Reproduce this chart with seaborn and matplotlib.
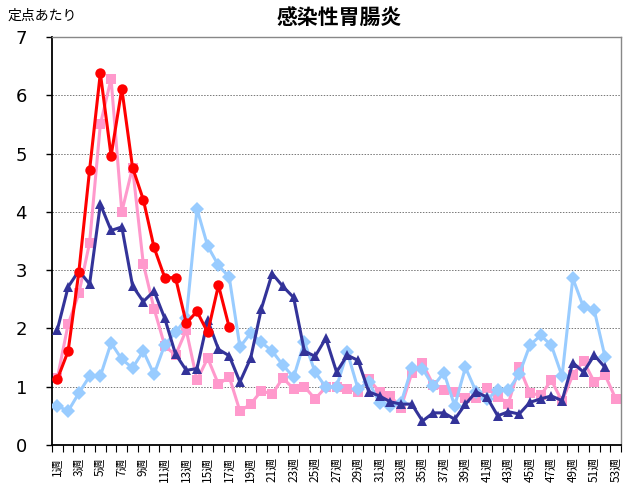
import numpy as np
import pandas as pd
import matplotlib
matplotlib.use('Agg')
import matplotlib.pyplot as plt
import seaborn as sns

# week labels 1週..53週
weeks = [f'{i}週' for i in range(1, 54)]

# series values (per sentinel site)
red = [1.13, 1.61, 2.97, 4.72, 6.38, 4.96, 6.11, 4.76, 4.21, 3.39, 2.87, 2.87, 2.09, 2.29, 1.93, 2.74, 2.02]
pink = [1.15, 2.07, 2.60, 3.47, 5.50, 6.28, 4.00, 4.76, 3.11, 2.34, 1.70, 1.54, 1.97, 1.11, 1.49, 1.04, 1.17,
        0.58, 0.70, 0.93, 0.87, 1.15, 0.96, 1.00, 0.79, 0.99, 1.00, 0.96, 0.91, 1.13, 0.91, 0.84, 0.64,
        1.23, 1.40, 1.03, 0.94, 0.91, 0.80, 0.80, 0.97, 0.83, 0.71, 1.34, 0.89, 0.85, 1.11, 0.75, 1.20,
        1.44, 1.08, 1.20, 0.79]
lightblue = [0.67, 0.58, 0.89, 1.18, 1.18, 1.75, 1.47, 1.32, 1.61, 1.21, 1.72, 1.93, 2.17, 4.05, 3.41, 3.08,
             2.88, 1.68, 1.92, 1.76, 1.61, 1.37, 1.16, 1.77, 1.25, 0.99, 1.00, 1.59, 0.96, 1.08, 0.72, 0.66,
             0.72, 1.32, 1.31, 1.01, 1.24, 0.67, 1.33, 0.91, 0.78, 0.94, 0.94, 1.21, 1.71, 1.88, 1.71, 1.18,
             2.86, 2.36, 2.31, 1.51]
navy = [1.98, 2.71, 2.99, 2.76, 4.13, 3.68, 3.74, 2.73, 2.46, 2.64, 2.17, 1.56, 1.28, 1.31, 2.14, 1.64, 1.53,
        1.08, 1.49, 2.34, 2.94, 2.72, 2.53, 1.61, 1.52, 1.83, 1.25, 1.54, 1.45, 0.91, 0.84, 0.74, 0.70,
        0.70, 0.41, 0.55, 0.55, 0.44, 0.70, 0.91, 0.82, 0.50, 0.57, 0.53, 0.73, 0.79, 0.84, 0.76, 1.41,
        1.25, 1.54, 1.33]


def pad(vals):
    return vals + [np.nan] * (len(weeks) - len(vals))


df = pd.DataFrame({
    'pos': np.arange(len(weeks)),
    'red': pad(red),
    'pink': pad(pink),
    'lightblue': pad(lightblue),
    'navy': pad(navy),
})

sns.set_style('white')
plt.rcParams['font.family'] = ['Noto Sans CJK JP', 'DejaVu Sans']
plt.rcParams['text.color'] = 'black'
plt.rcParams['xtick.color'] = 'black'
plt.rcParams['ytick.color'] = 'black'

fig = plt.figure(figsize=(6.23, 4.90), dpi=100)
ax = fig.add_axes([0.0835, 0.092, 0.9135, 0.8325])

styles = [
    ('pink', '#FF99CC', 's', 2),
    ('lightblue', '#99CCFF', 'D', 3),
    ('navy', '#333399', '^', 4),
    ('red', '#FF0000', 'o', 5),
]
for col, color, marker, z in styles:
    sns.lineplot(data=df, x='pos', y=col, ax=ax, color=color, marker=marker,
                 markersize=7.5, markeredgewidth=0, linewidth=2.2, zorder=z)

ax.set_xlim(-0.5, len(weeks) - 0.5)
ax.set_ylim(0, 7)
ax.set_xlabel('')
ax.set_ylabel('')

# y axis
ax.set_yticks(range(0, 8))
ax.set_yticklabels([str(i) for i in range(0, 8)], fontsize=13, family=['DejaVu Sans'])
ax.tick_params(axis='y', length=4, width=1, pad=14, direction='out', left=True)
for y in range(1, 7):
    ax.axhline(y, color='#777777', linestyle=(0, (1.5, 1.5)), linewidth=0.7, zorder=1)

# x axis: labels every other week, tick marks at category boundaries
ax.set_xticks(np.arange(0, len(weeks), 2))
ax.set_xticklabels(weeks[::2], rotation=90, fontsize=8.5, va='top', ha='center')
ax.set_xticks(np.arange(-0.5, len(weeks), 1), minor=True)
ax.tick_params(axis='x', which='major', length=0, pad=9)
ax.tick_params(axis='x', which='minor', length=5, width=0.8, direction='out', bottom=True)

for side in ['top', 'right']:
    ax.spines[side].set_color('#888888')
    ax.spines[side].set_linewidth(1)
for side in ['left', 'bottom']:
    ax.spines[side].set_color('#000000')
    ax.spines[side].set_linewidth(1.3)

fig.text(0.545, 0.963, '感染性胃腸炎', ha='center', va='center', fontsize=15, fontweight='bold')
fig.text(0.012, 0.968, '定点あたり', ha='left', va='center', fontsize=10)

fig.savefig('out.png', dpi=100)
